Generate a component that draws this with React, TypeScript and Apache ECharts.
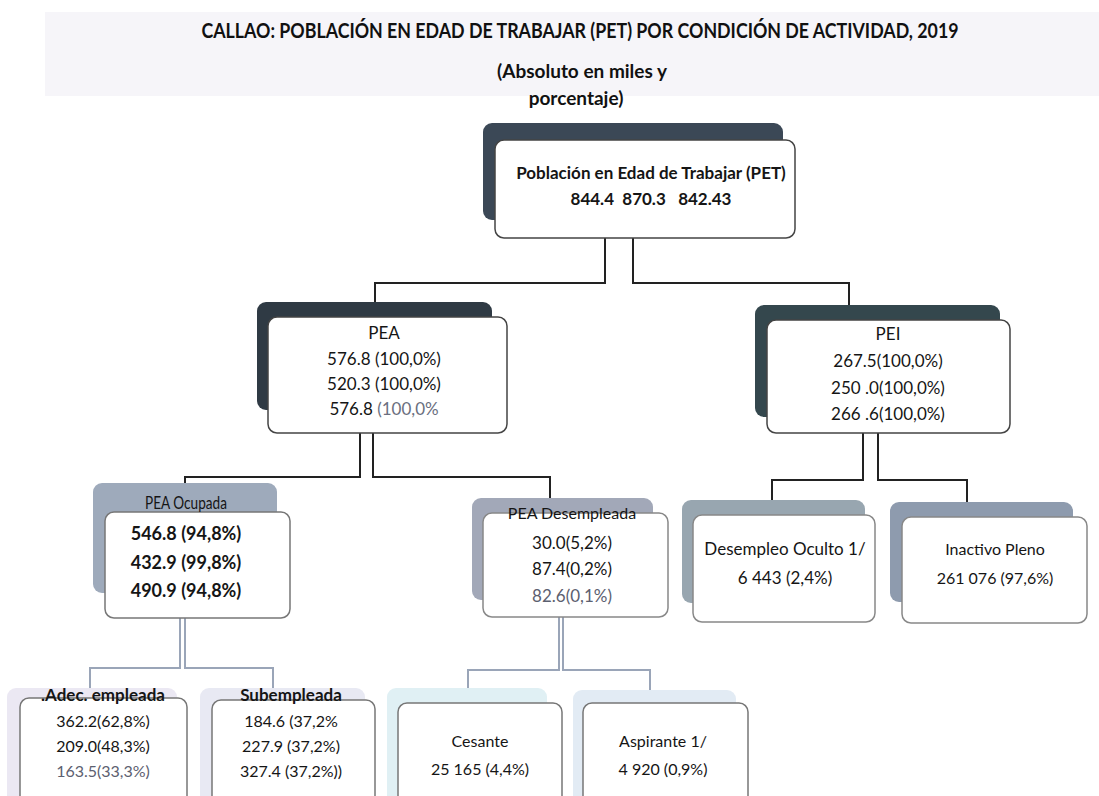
import React, { useEffect, useRef } from "react";
import * as echarts from "echarts";

// ---------- DATA ----------
const TITLE = "CALLAO: POBLACIÓN EN EDAD DE TRABAJAR (PET) POR CONDICIÓN DE ACTIVIDAD, 2019";
const SUBTITLE = ["(Absoluto en miles y", "porcentaje)"];

const nodeIds = ["pet", "pea", "pei", "ocu", "des", "oculto", "pleno", "adec", "sub", "ces", "asp"];
const nodeHeads = [
  "Población en Edad de Trabajar (PET)",
  "PEA",
  "PEI",
  "PEA Ocupada",
  "PEA Desempleada",
  "Desempleo Oculto 1/",
  "Inactivo Pleno",
  ".Adec. empleada",
  "Subempleada",
  "Cesante",
  "Aspirante 1/",
];
const nodeValues: string[][] = [
  ["844.4  870.3   842.43"],
  ["576.8 (100,0%)", "520.3 (100,0%)", "576.8 (100,0%"],
  ["267.5(100,0%)", "250 .0(100,0%)", "266 .6(100,0%)"],
  ["546.8 (94,8%)", "432.9 (99,8%)", "490.9 (94,8%)"],
  ["30.0(5,2%)", "87.4(0,2%)", "82.6(0,1%)"],
  ["6 443 (2,4%)"],
  ["261 076 (97,6%)"],
  ["362.2(62,8%)", "209.0(48,3%)", "163.5(33,3%)"],
  ["184.6 (37,2%", "227.9 (37,2%)", "327.4 (37,2%))"],
  ["25 165 (4,4%)"],
  ["4 920 (0,9%)"],
];
const nodeParents = [null, "pet", "pet", "pea", "pea", "pei", "pei", "ocu", "ocu", "des", "des"];

// ---------- LAYOUT / STYLE ----------
const FONT = "Lato, 'Open Sans', sans-serif";

type Layout = {
  shadow: number[];
  box: number[];
  cx: number;
  headY: number;
  valY: number[];
  shadowColor: string;
  headSize: number;
  headWeight: string | number;
  headScaleX?: number;
  valSize: number;
  valWeight: string | number;
  greyLast?: boolean;
  greySplit?: boolean;
  border: string;
};

const layout: Record<string, Layout> = {
  pet: { shadow: [483, 123, 300, 97], box: [495, 140, 300, 98], cx: 651, headY: 172, valY: [198], shadowColor: "#3b4856", headSize: 17, headWeight: "bold", valSize: 17, valWeight: "bold", border: "#444" },
  pea: { shadow: [257, 302, 235, 108], box: [268, 317, 239, 116], cx: 384, headY: 332, valY: [358, 383, 408], shadowColor: "#2f3a44", headSize: 17, headWeight: "normal", valSize: 17, valWeight: "normal", greySplit: true, border: "#444" },
  pei: { shadow: [755, 305, 245, 112], box: [767, 320, 243, 113], cx: 888, headY: 333, valY: [360, 387, 413], shadowColor: "#34474d", headSize: 17, headWeight: "normal", valSize: 17, valWeight: "normal", border: "#444" },
  ocu: { shadow: [93, 483, 184, 110], box: [105, 512, 185, 106], cx: 186, headY: 502, valY: [533, 562, 590], shadowColor: "#9eaabb", headSize: 17, headWeight: "normal", headScaleX: 0.8, valSize: 18, valWeight: "bold", border: "#777" },
  des: { shadow: [472, 498, 181, 102], box: [483, 513, 185, 104], cx: 572, headY: 512, valY: [542, 568, 595], shadowColor: "#a2a8b8", headSize: 16, headWeight: "normal", valSize: 17, valWeight: "normal", greyLast: true, border: "#888" },
  oculto: { shadow: [682, 500, 183, 103], box: [693, 515, 182, 107], cx: 785, headY: 548, valY: [577], shadowColor: "#98a6b0", headSize: 17, headWeight: "normal", valSize: 17, valWeight: "normal", border: "#888" },
  pleno: { shadow: [890, 502, 183, 100], box: [902, 517, 185, 106], cx: 995, headY: 548, valY: [577], shadowColor: "#8e9bae", headSize: 16, headWeight: "normal", valSize: 16, valWeight: "normal", border: "#888" },
  adec: { shadow: [7, 688, 170, 120], box: [20, 698, 167, 110], cx: 103, headY: 694, valY: [720, 745, 770], shadowColor: "#ebe8f3", headSize: 17, headWeight: "bold", valSize: 16, valWeight: "normal", greyLast: true, border: "#777" },
  sub: { shadow: [200, 688, 165, 120], box: [212, 700, 163, 110], cx: 291, headY: 694, valY: [720, 745, 770], shadowColor: "#e8e9f3", headSize: 17, headWeight: "bold", valSize: 16, valWeight: "normal", border: "#777" },
  ces: { shadow: [387, 688, 160, 120], box: [398, 703, 164, 110], cx: 480, headY: 740, valY: [768], shadowColor: "#e0f0f4", headSize: 16, headWeight: "normal", valSize: 16, valWeight: "normal", border: "#777" },
  asp: { shadow: [573, 690, 163, 120], box: [583, 703, 165, 110], cx: 663, headY: 740, valY: [768], shadowColor: "#e2ebf4", headSize: 16, headWeight: "normal", valSize: 16, valWeight: "normal", border: "#777" },
};

// connectors: [parentDropX, parentBottomY, elbowY, childX, childTopY]
const edgeGeom: Record<string, number[]> = {
  pea: [605, 238, 283, 375, 302],
  pei: [633, 238, 283, 849, 305],
  ocu: [360, 433, 477, 185, 484],
  des: [373, 433, 477, 550, 498],
  oculto: [863, 433, 480, 772, 500],
  pleno: [878, 433, 480, 967, 502],
  adec: [180, 618, 668, 90, 688],
  sub: [185, 618, 668, 273, 688],
  ces: [559, 617, 670, 468, 688],
  asp: [563, 617, 670, 650, 690],
};
const lightEdges = ["adec", "sub", "ces", "asp"];

function buildGraphics() {
  const g: any[] = [];
  // faint scan band behind title
  g.push({ type: "rect", shape: { x: 45, y: 12, width: 1054, height: 84 }, style: { fill: "#f6f5f9" }, silent: true });
  g.push({ type: "text", x: 580, y: 30, scaleX: 0.89, style: { text: TITLE, font: `bold 20px ${FONT}`, fill: "#111", align: "center", verticalAlign: "middle" } });
  const subX = [582, 576];
  SUBTITLE.forEach((s, i) =>
    g.push({ type: "text", x: subX[i], y: 70 + i * 27, style: { text: s, font: `bold 19px ${FONT}`, fill: "#111", align: "center", verticalAlign: "middle" } })
  );

  // connectors
  nodeIds.forEach((id, i) => {
    const p = nodeParents[i];
    if (!p) return;
    const e = edgeGeom[id];
    const light = lightEdges.includes(id);
    g.push({
      type: "polyline",
      shape: { points: [[e[0], e[1]], [e[0], e[2]], [e[3], e[2]], [e[3], e[4]]] },
      style: { stroke: light ? "#9aa5b8" : "#222", lineWidth: 2, fill: null },
      silent: true,
    });
  });

  // boxes
  nodeIds.forEach((id, i) => {
    const L = layout[id];
    const [sx, sy, sw, sh] = L.shadow;
    const [bx, by, bw, bh] = L.box;
    g.push({ type: "rect", shape: { x: sx, y: sy, width: sw, height: sh, r: 9 }, style: { fill: L.shadowColor } });
    g.push({ type: "rect", shape: { x: bx, y: by, width: bw, height: bh, r: 9 }, style: { fill: "#ffffff", stroke: L.border, lineWidth: 1.5 } });
    g.push({
      type: "text", x: L.cx, y: L.headY, z: 10, scaleX: L.headScaleX ?? 1,
      style: { text: nodeHeads[i], font: `${L.headWeight} ${L.headSize}px ${FONT}`, fill: "#151515", align: "center", verticalAlign: "middle" },
    });
    nodeValues[i].forEach((v, j) => {
      const last = j === nodeValues[i].length - 1;
      if (L.greySplit && last) {
        const k = v.indexOf("(");
        g.push({
          type: "text", x: L.cx, y: L.valY[j], z: 10,
          style: {
            text: `{a|${v.slice(0, k)}}{b|${v.slice(k)}}`,
            align: "center", verticalAlign: "middle",
            rich: {
              a: { font: `${L.valWeight} ${L.valSize}px ${FONT}`, fill: "#151515" },
              b: { font: `${L.valWeight} ${L.valSize}px ${FONT}`, fill: "#6a6f80" },
            },
          },
        });
      } else {
        g.push({
          type: "text", x: L.cx, y: L.valY[j], z: 10,
          style: {
            text: v, font: `${L.valWeight} ${L.valSize}px ${FONT}`,
            fill: L.greyLast && last ? "#5c6070" : "#151515", align: "center", verticalAlign: "middle",
          },
        });
      }
    });
  });
  return g;
}

export default function App() {
  const ref = useRef<HTMLDivElement>(null);
  useEffect(() => {
    if (!ref.current) return;
    const chart = echarts.init(ref.current, undefined, { renderer: "svg" });
    chart.setOption({
      animation: false,
      backgroundColor: "#ffffff",
      graphic: { elements: buildGraphics() },
    });
    return () => chart.dispose();
  }, []);
  return <div ref={ref} style={{ position: "absolute", left: 0, top: 0, width: 1099, height: 796 }} />;
}
